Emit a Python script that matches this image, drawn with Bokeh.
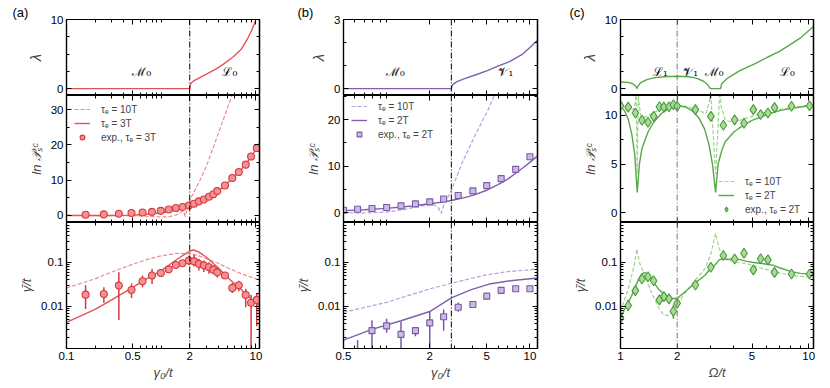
from bokeh.plotting import figure
from bokeh.layouts import row, column
from bokeh.models import (Range1d, FixedTicker, Span, Label, Legend, LegendItem,
                          LinearAxis, LogAxis, CustomJSTickFormatter)
from bokeh.embed import file_html
from bokeh.resources import INLINE

# ---------------- data: panel (a) ----------------
A_LAM_X = [0.1, 2.0, 2.01, 2.03, 2.07, 2.15, 2.3, 2.56, 3.0, 3.85, 4.5, 5.77, 7.0, 8.0, 9.0, 10.0, 10.9]
A_LAM_Y = [0.0, 0.0, 0.3, 0.55, 0.8, 1.0, 1.25, 1.6, 2.1, 2.9, 3.5, 4.6, 5.7, 7.0, 8.4, 10.0, 11.5]

A_LNP_SOLID_X = [0.1, 0.3, 0.5, 0.65, 0.8, 1.0, 1.2, 1.5, 1.7, 2.0, 2.3, 2.6, 3.0, 3.5, 4.0, 4.7, 5.6, 6.6, 7.8, 8.9, 10.2, 10.9]
A_LNP_SOLID_Y = [0.0, 0.0, 0.1, 0.25, 0.45, 0.75, 1.1, 1.6, 2.0, 2.8, 3.5, 4.2, 5.2, 6.0, 6.9, 8.5, 10.5, 12.3, 14.4, 16.7, 19.1, 20.6]
A_LNP_DASH_X = [0.1, 0.6, 0.9, 1.2, 1.45, 1.6, 1.72, 1.79, 1.87, 2.0, 2.3, 2.56, 3.0, 3.55, 4.5, 5.5, 6.0]
A_LNP_DASH_Y = [0.0, -0.1, -0.4, -0.4, 0.2, 0.9, 1.2, -0.3, 1.8, 4.2, 7.5, 9.9, 14.0, 19.3, 27.0, 33.5, 36.5]

A_EXP_X = [0.159, 0.248, 0.357, 0.486, 0.635, 0.80, 0.99, 1.2, 1.43, 1.68, 1.96, 2.22, 2.5, 2.82,
           3.19, 3.55, 3.91, 4.71, 5.63, 6.6, 7.8, 8.88, 10.2]
A_LNP_EXP = [0.2, 0.3, 0.5, 0.7, 0.85, 1.0, 1.3, 1.7, 2.1, 2.4, 2.8, 3.3, 4.0, 4.5,
             5.3, 6.0, 6.9, 8.5, 10.6, 12.3, 14.4, 16.7, 19.1]
A_G_EXP = [0.0184, 0.019, 0.0295, 0.0235, 0.037, 0.05, 0.057, 0.069, 0.087, 0.095, 0.11, 0.105, 0.092, 0.085,
           0.077, 0.068, 0.059, 0.05, 0.026, 0.03, 0.018, 0.012, 0.014]
A_G_LO = [0.0087, 0.012, 0.0049, 0.0155, 0.027, 0.032, 0.05, 0.06, 0.072, 0.083, 0.085, 0.08, 0.065, 0.06,
          0.055, 0.055, 0.045, 0.042, 0.02, 0.022, 0.0095, 0.0008, 0.0035]
A_G_HI = [0.03, 0.027, 0.059, 0.033, 0.05, 0.07, 0.064, 0.078, 0.1, 0.11, 0.14, 0.15, 0.12, 0.11,
          0.1, 0.085, 0.075, 0.058, 0.034, 0.038, 0.025, 0.018, 0.02]
A_G_SOLID_X = [0.1, 0.2, 0.3, 0.5, 0.7, 1.0, 1.5, 2.0, 2.2, 2.5, 3.0, 4.0, 5.0, 6.0, 7.0, 8.0, 10.0, 10.9]
A_G_SOLID_Y = [0.0043, 0.0085, 0.014, 0.027, 0.042, 0.065, 0.12, 0.18, 0.19, 0.17, 0.13, 0.075, 0.045, 0.032, 0.024, 0.018, 0.012, 0.010]
A_G_DASH_X = [0.1, 0.2, 0.3, 0.5, 0.7, 1.0, 1.5, 2.0, 2.5, 3.0, 4.0, 5.0, 7.0, 10.0, 10.9]
A_G_DASH_Y = [0.026, 0.042, 0.06, 0.09, 0.115, 0.14, 0.16, 0.155, 0.14, 0.12, 0.095, 0.075, 0.055, 0.042, 0.039]

# ---------------- data: panel (b) ----------------
B_LAM_X = [0.5, 2.83, 2.86, 2.95, 3.1, 3.5, 4.2, 5.0, 5.8, 7.2, 8.9, 10.0, 11.3]
B_LAM_Y = [0.0, 0.0, 0.12, 0.22, 0.3, 0.43, 0.6, 0.77, 0.94, 1.17, 1.5, 1.78, 2.1]

B_LNP_SOLID_X = [0.5, 0.7, 1.0, 1.5, 2.0, 2.5, 2.83, 3.5, 4.0, 5.0, 6.0, 7.0, 8.0, 9.0, 10.0, 11.3]
B_LNP_SOLID_Y = [0.4, 0.6, 0.9, 1.4, 1.9, 2.3, 2.6, 3.2, 3.7, 4.8, 6.0, 7.2, 8.5, 9.7, 10.8, 12.2]
B_LNP_DASH_X = [0.5, 0.7, 1.0, 1.3, 1.6, 1.9, 2.1, 2.3, 2.4, 2.5, 2.83, 3.4, 4.2, 5.0, 5.7]
B_LNP_DASH_Y = [0.0, -0.1, 0.1, 0.6, 1.2, 1.6, 1.8, 1.0, -0.2, 1.5, 4.8, 11.0, 17.0, 21.5, 25.5]
B_EXP_X = [0.5, 0.627, 0.79, 1.0, 1.26, 1.59, 2.0, 2.5, 3.16, 4.0, 5.0, 6.3, 7.96, 10.0]
B_LNP_EXP = [0.5, 0.7, 0.86, 1.07, 1.43, 1.86, 2.3, 2.9, 3.66, 4.66, 5.8, 7.3, 9.3, 12.0]
B_G_EXP_X = [0.627, 0.79, 1.0, 1.26, 1.59, 2.0, 2.5, 3.16, 4.0, 5.0, 6.3, 7.96, 10.0]
B_G_EXP = [0.0008, 0.0028, 0.0036, 0.0023, 0.0028, 0.0042, 0.0058, 0.0095, 0.011, 0.017, 0.023, 0.025, 0.025]
B_G_LO = [0.0003, 0.0008, 0.0025, 0.0008, 0.0021, 0.0008, 0.0028, 0.0075, 0.0105, 0.0155, 0.021, 0.024, 0.024]
B_G_HI = [0.0017, 0.0048, 0.0052, 0.0045, 0.0033, 0.0075, 0.0085, 0.0122, 0.0115, 0.019, 0.025, 0.026, 0.026]
B_G_SOLID_X = [0.5, 0.79, 1.26, 2.0, 2.83, 3.9, 5.2, 7.3, 11.3]
B_G_SOLID_Y = [0.0017, 0.003, 0.0047, 0.0076, 0.0155, 0.024, 0.032, 0.038, 0.044]
B_G_DASH_X = [0.5, 1.0, 2.0, 2.83, 4.0, 5.0, 7.0, 11.3]
B_G_DASH_Y = [0.0073, 0.0123, 0.0248, 0.0333, 0.044, 0.052, 0.061, 0.07]

# ---------------- data: panel (c) ----------------
C_LAM_X = [1.0, 1.1, 1.16, 1.2, 1.225, 1.24, 1.28, 1.38, 1.5, 1.7, 2.0, 2.3, 2.5, 2.75, 2.9, 3.0, 3.4,
           3.45, 3.6, 3.75, 4.3, 5.2, 6.0, 7.0, 7.7, 9.0, 10.3, 10.6]
C_LAM_Y = [0.96, 0.9, 0.7, 0.4, 0.0, 0.4, 0.85, 1.3, 1.55, 1.72, 1.78, 1.72, 1.55, 1.1, 0.6, 0.0, 0.0,
           0.7, 1.2, 1.6, 2.6, 3.6, 4.5, 5.4, 6.1, 7.3, 8.7, 9.0]

C_LNP_SOLID_X = [1.0, 1.05, 1.1, 1.15, 1.19, 1.227, 1.26, 1.3, 1.4, 1.5, 1.65, 1.8, 2.0, 2.2, 2.4, 2.6, 2.8,
                 2.95, 3.08, 3.2, 3.3, 3.45, 3.6, 4.0, 4.5, 5.0, 6.0, 7.0, 8.0, 10.0, 10.6]
C_LNP_SOLID_Y = [11.0, 10.5, 9.6, 8.0, 6.0, 2.1, 5.0, 6.6, 8.3, 9.3, 10.2, 10.7, 11.0, 10.9, 10.5, 9.8, 8.6,
                 7.0, 5.0, 2.1, 5.0, 6.4, 7.3, 8.3, 9.0, 9.5, 10.1, 10.5, 10.7, 11.0, 11.05]
C_LNP_DASH_X = [1.0, 1.1, 1.18, 1.205, 1.21, 1.227, 1.244, 1.25, 1.28, 1.35, 1.5, 1.7, 2.0, 2.3, 2.6, 2.85,
                2.97, 3.0, 3.2, 3.38, 3.42, 3.6, 4.0, 5.0, 6.0, 8.0, 10.6]
C_LNP_DASH_Y = [11.1, 10.7, 10.6, 11.8, 13.0, 4.0, 13.0, 11.5, 10.0, 9.8, 10.3, 10.8, 11.05, 10.9, 10.5, 10.2,
                11.5, 13.0, 4.0, 13.0, 11.0, 9.5, 9.3, 9.9, 10.4, 10.8, 11.1]
C_EXP_X = [1.0, 1.099, 1.20, 1.30, 1.40, 1.50, 1.61, 1.70, 1.81, 1.91, 2.0, 2.5, 3.02, 3.52, 4.04, 4.53,
           5.08, 5.55, 6.07, 6.58, 8.1, 10.1]
C_LNP_EXP = [11.0, 10.85, 10.25, 9.5, 9.3, 9.9, 10.9, 10.85, 10.9, 11.1, 10.95, 10.6, 9.9, 9.0, 9.55, 9.2,
             10.6, 10.1, 10.25, 10.8, 10.95, 11.0]
C_G_EXP = [0.0054, 0.0104, 0.0227, 0.0418, 0.047, 0.038, 0.014, 0.0166, 0.0147, 0.0077, 0.0117, 0.0305,
           0.077, 0.142, 0.119, 0.16, 0.067, 0.12, 0.113, 0.059, 0.054, 0.054]
C_G_LO = [0.004, 0.0078, 0.019, 0.037, 0.042, 0.033, 0.012, 0.014, 0.0125, 0.0052, 0.01, 0.027,
          0.068, 0.125, 0.105, 0.14, 0.059, 0.105, 0.1, 0.052, 0.048, 0.048]
C_G_HI = [0.0072, 0.014, 0.027, 0.047, 0.053, 0.043, 0.016, 0.019, 0.017, 0.011, 0.0135, 0.034,
          0.087, 0.16, 0.135, 0.18, 0.076, 0.135, 0.127, 0.066, 0.06, 0.06]
C_G_SOLID_X = [1.0, 1.05, 1.1, 1.15, 1.2, 1.25, 1.3, 1.35, 1.4, 1.5, 1.6, 1.7, 1.8, 1.9, 2.0, 2.1, 2.3, 2.5,
               2.8, 3.0, 3.2, 3.35, 3.5, 3.7, 4.0, 4.3, 4.7, 5.0, 5.5, 6.0, 6.5, 7.0, 8.0, 9.0, 10.0, 10.6]
C_G_SOLID_Y = [0.0055, 0.0085, 0.012, 0.018, 0.028, 0.042, 0.055, 0.058, 0.052, 0.035, 0.024, 0.019, 0.016,
               0.015, 0.015, 0.018, 0.025, 0.034, 0.05, 0.07, 0.09, 0.115, 0.12, 0.115, 0.12, 0.115, 0.105,
               0.1, 0.095, 0.09, 0.085, 0.075, 0.062, 0.056, 0.055, 0.055]
C_G_DASH_X = [1.0, 1.1, 1.18, 1.22, 1.26, 1.3, 1.4, 1.5, 1.6, 1.7, 1.8, 1.9, 2.0, 2.2, 2.5, 2.8, 3.0, 3.2,
              3.35, 3.5, 3.8, 4.2, 4.8, 5.5, 6.5, 8.0, 10.0, 10.6]
C_G_DASH_Y = [0.0075, 0.025, 0.08, 0.2, 0.1, 0.07, 0.032, 0.016, 0.009, 0.0063, 0.0062, 0.008, 0.011, 0.02,
              0.04, 0.07, 0.14, 0.45, 0.2, 0.14, 0.11, 0.1, 0.09, 0.075, 0.062, 0.05, 0.046, 0.045]

# ---------------- styling ----------------
FONT = "Liberation Sans"
TICK_FS = "11.5px"
RED = dict(solid="#e25357", dash="#f08a8c", fill="#f29092", edge="#d63a40")
PUR = dict(solid="#7f60ad", dash="#b5a0d8", fill="#cbbbe4", edge="#7a5aa8")
GRN = dict(solid="#58a848", dash="#9dd48f", fill="#a8da98", edge="#4a9a3c")

TOP_H, MID_H, BOT_H = 76, 127, 126
num_fmt = CustomJSTickFormatter(code="return String(tick);")


def base_axis_style(ax):
    ax.axis_line_color = "black"
    ax.axis_line_width = 1.2
    ax.major_tick_in = 5
    ax.major_tick_out = 0
    ax.minor_tick_in = 3
    ax.minor_tick_out = 0
    ax.major_tick_line_color = "black"
    ax.minor_tick_line_color = "black"


def labelled_axis(cls, ticks, minor):
    ax = cls(ticker=FixedTicker(ticks=ticks, minor_ticks=minor))
    base_axis_style(ax)
    ax.formatter = num_fmt
    ax.major_label_text_font = FONT
    ax.major_label_text_font_size = TICK_FS
    ax.major_label_text_color = "black"
    ax.major_label_standoff = 3
    return ax


def tick_only_axes(p, cls, ticks, minor, side):
    # two label-free axes: one for short (minor) ticks, one for long (major) ticks
    for lst, ln in ((minor, 3), (ticks, 5)):
        ax = cls(ticker=FixedTicker(ticks=[], minor_ticks=list(lst)))
        base_axis_style(ax)
        ax.minor_tick_in = ln
        ax.major_label_standoff = 0
        p.add_layout(ax, side)


def make_fig(xr, yr, ylog, fw, fh, bl, br, bt, bb, xt, xm, yt, ym, ylabel, show_x, xlabel=None):
    p = figure(x_range=xr, y_range=yr, x_axis_type="log",
               y_axis_type="log" if ylog else "linear",
               x_axis_location=None, y_axis_location=None,
               frame_width=fw, frame_height=fh,
               min_border_left=bl, min_border_right=br, min_border_top=bt, min_border_bottom=bb,
               output_backend="svg", toolbar_location=None)
    p.xgrid.visible = False
    p.ygrid.visible = False
    p.outline_line_color = "black"
    p.outline_line_width = 1.2
    ycls = LogAxis if ylog else LinearAxis
    left = labelled_axis(ycls, yt, ym)
    left.axis_label = ylabel
    left.axis_label_text_font = FONT
    left.axis_label_text_font_size = "13px"
    left.axis_label_text_font_style = "italic"
    left.axis_label_standoff = 4
    p.add_layout(left, "left")
    if show_x:
        bx = labelled_axis(LogAxis, xt, xm)
        bx.axis_label = xlabel
        bx.axis_label_text_font = FONT
        bx.axis_label_text_font_size = "13px"
        bx.axis_label_text_font_style = "italic"
        bx.axis_label_standoff = 2
        p.add_layout(bx, "below")
    else:
        tick_only_axes(p, LogAxis, xt, xm, "below")
    tick_only_axes(p, LogAxis, xt, xm, "above")
    tick_only_axes(p, ycls, yt, ym, "right")
    return p


def log_minor(lo, hi, skip):
    out = []
    d = 1e-4
    while d < 100:
        for k in range(1, 10):
            v = round(k * d, 8)
            if lo <= v <= hi and v not in skip:
                out.append(v)
        d *= 10
    return out


def build_column(pal, xr, xt, bl, br, fw, lam, lnp, gam, labels, legend_cfg, vline, vcolor, tag, xlabel):
    xm = log_minor(xr.start, xr.end, xt)
    f1 = make_fig(xr, Range1d(*lam[2]), False, fw, TOP_H, bl, br, 19, 0, xt, xm, lam[3], lam[4], "λ", False)
    f1.line(lam[0], lam[1], color=pal["solid"], line_width=1.4)
    f1.left[0].axis_label_text_font_size = "15px"
    for (lx, ly, txt) in labels:
        f1.add_layout(Label(x=lx, y=ly, text=txt, text_align="center", text_baseline="middle",
                            text_color="black", text_font="DejaVu Serif", text_font_size="12px"))
    # panel tag as a left-aligned title shifted into the left margin
    f1.title.text = tag
    f1.title.align = "left"
    f1.title.offset = -(bl - 12)
    f1.title.standoff = 0
    f1.title.text_font = FONT
    f1.title.text_font_size = "13px"
    f1.title.text_font_style = "normal"
    f1.title.text_color = "black"

    f2 = make_fig(xr, Range1d(*lnp[0]), False, fw, MID_H, bl, br, 0, 0, xt, xm, lnp[1], lnp[2], "ln 𝒫ₛᶜ", False)
    r_dash = f2.line(lnp[3], lnp[4], color=pal["dash"], line_width=1.2, line_dash="4 2")
    r_solid = f2.line(lnp[5], lnp[6], color=pal["solid"], line_width=1.4)
    r_pts = f2.scatter(lnp[7], lnp[8], marker=lnp[9], size=lnp[10], fill_color=pal["fill"],
                       line_color=pal["edge"], line_width=1.1)
    leg = Legend(items=[LegendItem(label=legend_cfg[0], renderers=[r_dash]),
                        LegendItem(label=legend_cfg[1], renderers=[r_solid]),
                        LegendItem(label=legend_cfg[2], renderers=[r_pts])],
                 location=legend_cfg[3], background_fill_alpha=0, border_line_alpha=0,
                 padding=0, margin=0, spacing=2, label_height=12, glyph_height=12, glyph_width=16,
                 label_standoff=11, label_text_font=FONT, label_text_font_size="10px")
    f2.add_layout(leg)

    f3 = make_fig(xr, Range1d(0.0011, 0.8), True, fw, BOT_H, bl, br, 0, 36, xt, xm,
                  [0.01, 0.1], log_minor(0.0011, 0.8, [0.01, 0.1]), "γ̄/t", True, xlabel)
    f3.line(gam[0], gam[1], color=pal["dash"], line_width=1.2, line_dash="4 2")
    f3.line(gam[2], gam[3], color=pal["solid"], line_width=1.4)
    f3.segment(gam[4], gam[6], gam[4], gam[7], color=pal["edge"], line_width=1.5)
    f3.scatter(gam[4], gam[5], marker=lnp[9], size=lnp[10], fill_color=pal["fill"],
               line_color=pal["edge"], line_width=1.1)

    for f in (f1, f2, f3):
        f.add_layout(Span(location=vline, dimension="height", line_color=vcolor,
                          line_width=1, line_dash="6 2 1 2"))
    return column(f1, f2, f3, spacing=0)


XR_A = Range1d(0.1, 10.9)
XR_B = Range1d(0.5, 11.3)
XR_C = Range1d(1.0, 10.6)

col_a = build_column(
    RED, XR_A, [0.1, 0.5, 2, 10], 66, 26, 193,
    (A_LAM_X, A_LAM_Y, (-1, 10), [0, 10], [2.5, 5, 7.5]),
    ((-2, 34), [0, 10, 20, 30], [5, 15, 25], A_LNP_DASH_X, A_LNP_DASH_Y, A_LNP_SOLID_X, A_LNP_SOLID_Y,
     A_EXP_X, A_LNP_EXP, "circle", 7),
    (A_G_DASH_X, A_G_DASH_Y, A_G_SOLID_X, A_G_SOLID_Y, A_EXP_X, A_G_EXP, A_G_LO, A_G_HI),
    [(0.62, 2.4, "ℳ₀"), (5.3, 2.4, "ℒ₀")],
    ("τₑ = 10T", "τₑ = 3T", "exp., τₑ = 3T", (8, 79)),
    2.0, "black", "(a)", "γ₀/t")

col_b = build_column(
    PUR, XR_B, [0.5, 2, 5, 10], 58, 20, 194,
    (B_LAM_X, B_LAM_Y, (-0.3, 3), [0, 3], [1, 2]),
    ((-2.15, 25.2), [0, 10, 20], [5, 15, 25], B_LNP_DASH_X, B_LNP_DASH_Y, B_LNP_SOLID_X, B_LNP_SOLID_Y,
     B_EXP_X, B_LNP_EXP, "square", 6),
    (B_G_DASH_X, B_G_DASH_Y, B_G_SOLID_X, B_G_SOLID_Y, B_G_EXP_X, B_G_EXP, B_G_LO, B_G_HI),
    [(1.15, 0.72, "ℳ₀"), (6.8, 0.72, "𝒱₁")],
    ("τₑ = 10T", "τₑ = 2T", "exp., τₑ = 2T", (8, 82)),
    2.83, "black", "(b)", "γ₀/t")

col_c = build_column(
    GRN, XR_C, [1, 2, 5, 10], 63, 10, 193,
    (C_LAM_X, C_LAM_Y, (-1, 10), [0, 10], [2.5, 5, 7.5]),
    ((-1, 12.05), [0, 5, 10], [2.5, 7.5], C_LNP_DASH_X, C_LNP_DASH_Y, C_LNP_SOLID_X, C_LNP_SOLID_Y,
     C_EXP_X, C_LNP_EXP, "diamond", 10),
    (C_G_DASH_X, C_G_DASH_Y, C_G_SOLID_X, C_G_SOLID_Y, C_EXP_X, C_G_EXP, C_G_LO, C_G_HI),
    [(1.63, 2.4, "ℒ₁"), (2.36, 2.4, "𝒱₁"), (3.14, 2.4, "ℳ₀"), (7.7, 2.4, "ℒ₀")],
    ("τₑ = 10T", "τₑ = 2T", "exp., τₑ = 2T", (98, 7)),
    2.0, "#777777", "(c)", "Ω/t")

layout = row(col_a, col_b, col_c, spacing=0)
open("out.html", "w").write(file_html(layout, INLINE))
